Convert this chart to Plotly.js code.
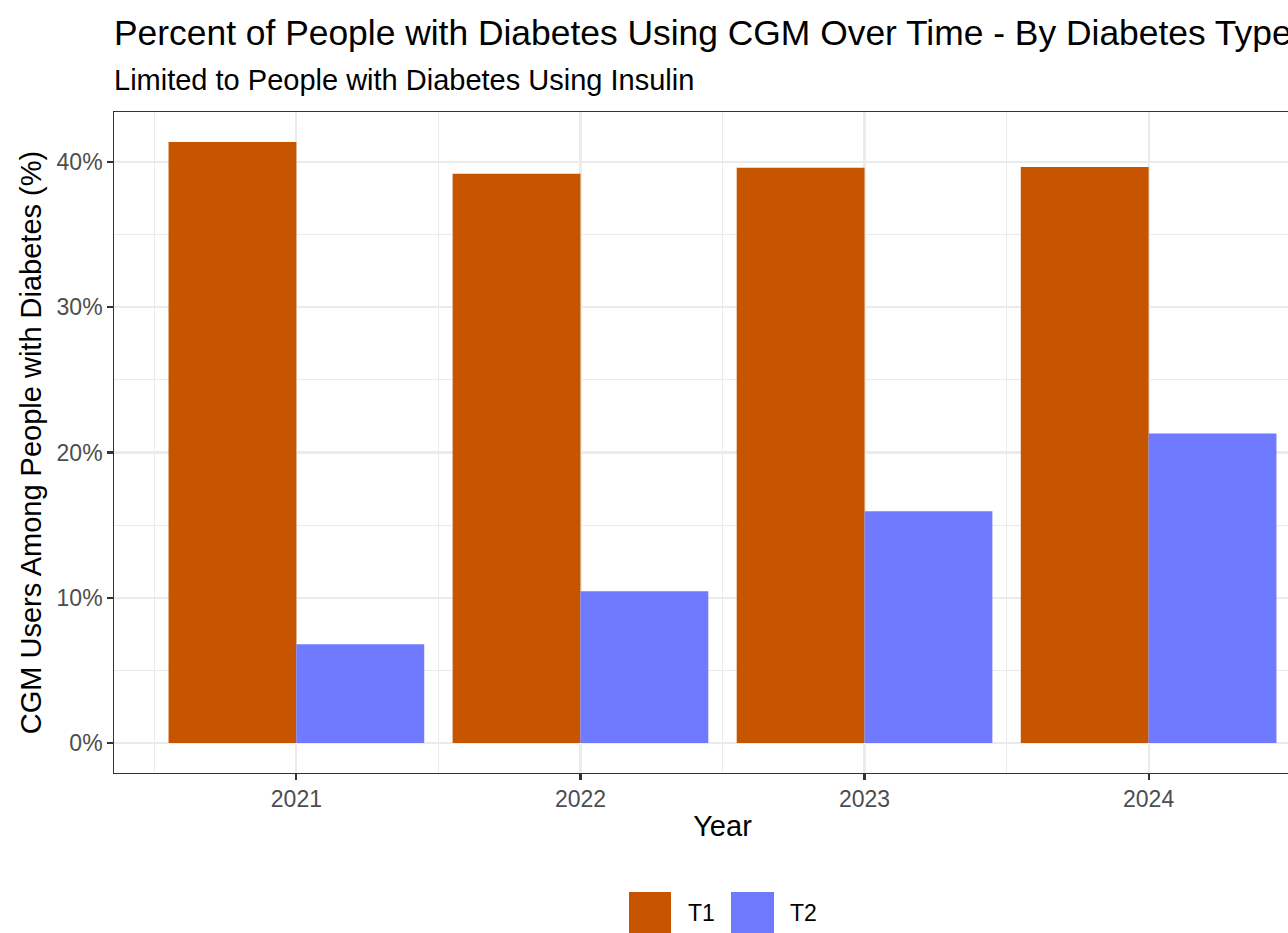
<!DOCTYPE html>
<html>
<head>
<meta charset="utf-8">
<script src="https://cdn.plot.ly/plotly-3.0.1.min.js"></script>
<style>
html,body{margin:0;padding:0;overflow:hidden;background:#fff;}
#chart{width:1345px;height:933px;}
</style>
</head>
<body>
<div id="chart"></div>
<script>
// Data
const years = [2021, 2022, 2023, 2024];
const yearLabels = ["2021", "2022", "2023", "2024"];
const seriesNames = ["T1", "T2"];
const t1Values = [41.37, 39.18, 39.60, 39.66];
const t2Values = [6.80, 10.45, 15.95, 21.30];
const seriesColors = ["#C75500", "#6F7AFF"];
const yTicks = [0, 10, 20, 30, 40];

const W = 1345, H = 933;
const L = 114, T = 112, R = 14, B = 160;
const PW = W - L - R, PH = H - T - B;
const px2x = p => (p - L) / PW;
const px2y = p => (H - B - p) / PH;

const font = "Liberation Sans, Arial, sans-serif";

const traces = [t1Values, t2Values].map((vals, i) => ({
  type: "bar",
  x: years,
  y: vals,
  name: seriesNames[i],
  marker: {color: seriesColors[i], line: {width: 0}},
  showlegend: false,
  hoverinfo: "x+y+name"
}));

// manual legend (ggplot-like large keys)
const legendKeys = [{x0: 629, x1: 671, tx: 686}, {x0: 731, x1: 774, tx: 788}];
const shapes = legendKeys.map((k, i) => ({
  type: "rect", xref: "paper", yref: "paper",
  x0: px2x(k.x0), x1: px2x(k.x1), y0: px2y(934), y1: px2y(892),
  fillcolor: seriesColors[i], line: {width: 0}
}));
const annotations = legendKeys.map((k, i) => ({
  xref: "paper", yref: "paper", x: px2x(k.tx), y: px2y(913),
  xanchor: "left", yanchor: "middle", showarrow: false,
  text: seriesNames[i], font: {family: font, size: 23, color: "#000"}
}));
annotations.push({
  xref: "paper", yref: "paper", x: px2x(112), y: px2y(80),
  xanchor: "left", yanchor: "middle", showarrow: false,
  text: "Limited to People with Diabetes Using Insulin",
  font: {family: font, size: 29, color: "#000"}
});

const layout = {
  width: W, height: H,
  margin: {l: L, r: R, t: T, b: B},
  paper_bgcolor: "#fff", plot_bgcolor: "#fff",
  barmode: "group", bargap: 0.1, bargroupgap: 0,
  title: {
    text: "Percent of People with Diabetes Using CGM Over Time - By Diabetes Type",
    xref: "paper", x: 0, xanchor: "left",
    yref: "container", y: 1 - 33 / H, yanchor: "middle",
    font: {family: font, size: 35.4, color: "#000"}
  },
  xaxis: {
    range: [years[0] - 0.642, years[years.length - 1] + 0.642],
    tickmode: "array", tickvals: years, ticktext: yearLabels,
    showgrid: true, gridcolor: "#EBEBEB", gridwidth: 2.2,
    minor: {tick0: 2020.5, dtick: 1, showgrid: true, gridcolor: "#EBEBEB", gridwidth: 1.1, ticklen: 0},
    zeroline: false,
    showline: true, linecolor: "#333333", linewidth: 1.3, mirror: true,
    ticks: "outside", ticklen: 5.5, tickwidth: 2.2, tickcolor: "#333333",
    tickfont: {family: font, size: 23, color: "#4D4D4D"},
    title: {text: "Year", font: {family: font, size: 29, color: "#000"}, standoff: 4},
    fixedrange: true
  },
  yaxis: {
    range: [-2.07, 43.44],
    tickmode: "array", tickvals: yTicks, ticktext: yTicks.map(v => v + "%"),
    showgrid: true, gridcolor: "#EBEBEB", gridwidth: 2.2,
    minor: {tick0: 5, dtick: 10, showgrid: true, gridcolor: "#EBEBEB", gridwidth: 1.1, ticklen: 0},
    zeroline: false,
    showline: true, linecolor: "#333333", linewidth: 1.3, mirror: true,
    ticks: "outside", ticklen: 5.5, tickwidth: 2.2, tickcolor: "#333333",
    tickfont: {family: font, size: 23, color: "#4D4D4D"},
    title: {text: "CGM Users Among People with Diabetes (%)", font: {family: font, size: 29, color: "#000"}, standoff: 6},
    fixedrange: true
  },
  shapes: shapes,
  annotations: annotations,
  showlegend: false
};

Plotly.newPlot("chart", traces, layout, {displayModeBar: false, staticPlot: true});
</script>
</body>
</html>
